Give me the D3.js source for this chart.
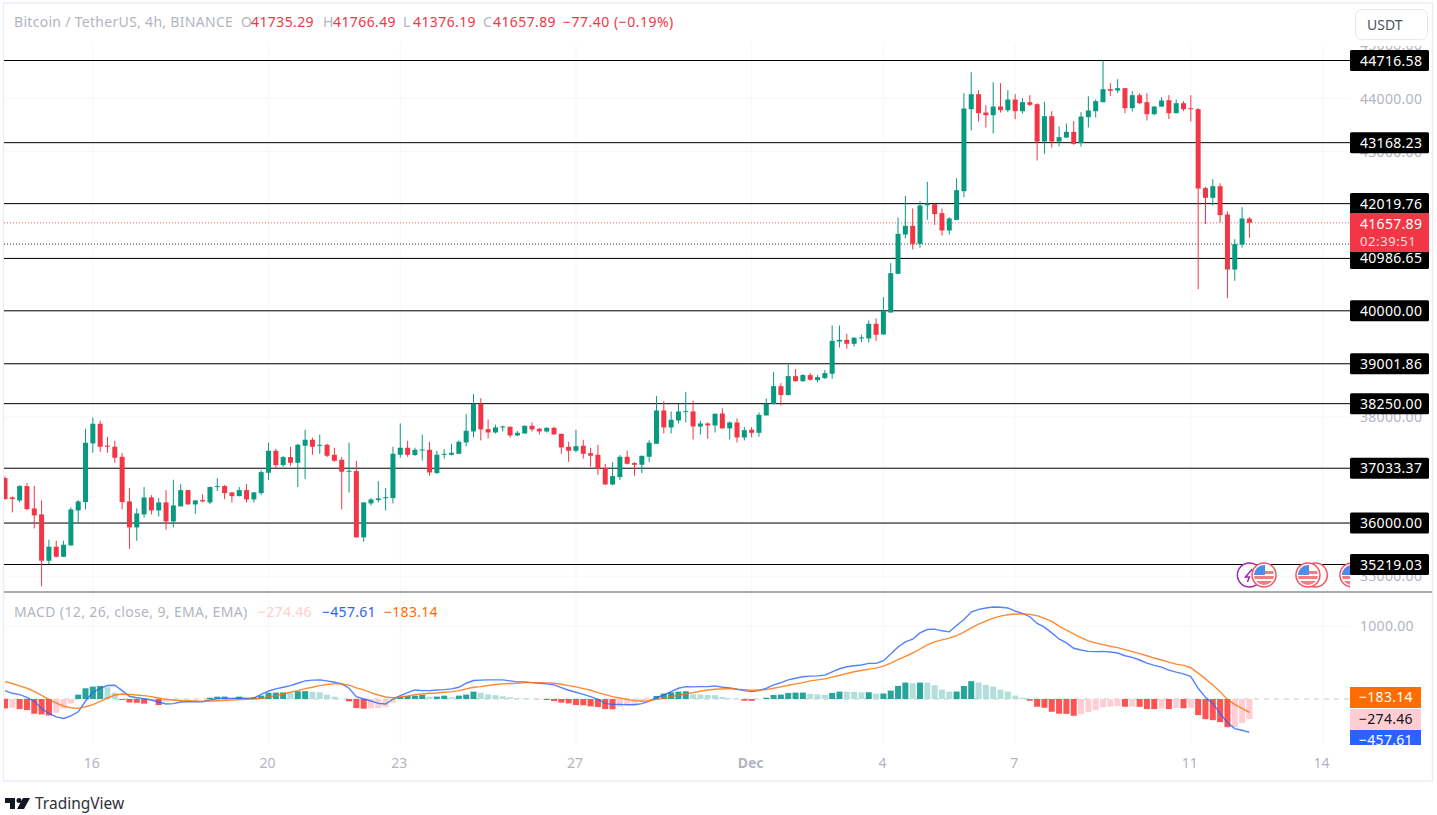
<!DOCTYPE html>
<html>
<head>
<meta charset="utf-8">
<title>BTC/USDT 4h</title>
<script src="https://cdn.jsdelivr.net/npm/d3@7/dist/d3.min.js"></script>
<style>
html, body { margin: 0; padding: 0; background: #fff; overflow: hidden; }
svg { display: block; font-family: "Noto Sans", sans-serif; }
.axis path, .axis line { display: none; }
</style>
</head>
<body>
<svg id="viz"></svg>
<script>
var width = 1437;
var height = 815;

// OHLC per 4h candle
var opens = [
36847,36483,36427,36697,36276,36163,35290,35554,35365,35579,
36238,36395,37501,37871,37457,37438,37249,36408,35918,36163,
36483,36238,36389,36031,36314,36621,36351,36433,36389,36678,
36697,36577,36508,36621,36445,36565,36948,37362,37092,37243,
37136,37457,37570,37457,37475,37287,37193,36967,36979,35730,
36370,36433,36471,36471,37287,37419,37281,37368,37381,36941,
37287,37287,37305,37519,37726,38247,37770,37707,37808,37814,
37651,37688,37833,37776,37726,37795,37682,37437,37362,37456,
37318,37287,37035,36728,36866,37249,37130,37098,37249,37494,
38122,37802,37934,38090,38103,37820,37877,37839,38065,37783,
37896,37613,37758,37701,38028,38247,38580,38411,38769,38674,
38788,38693,38731,38813,39422,39453,39378,39479,39479,39755,
39554,39968,40697,41438,41601,41262,41990,42009,41840,41513,
41714,42254,43799,44082,43736,43686,43849,43780,43981,43761,
43931,43893,43190,43667,43190,43265,43372,43159,43649,43761,
43931,44176,44151,44195,43818,44063,43931,43705,43849,43969,
43724,43912,43818,43799,42311,42129,42348,41815,40778,41250,41735.29];

var closes = [
36452,36452,36697,36263,36144,35290,35554,35365,35591,36257,
36408,37513,37871,37438,37438,37230,36395,35918,36182,36483,
36238,36389,36031,36332,36621,36351,36427,36408,36678,36697,
36565,36508,36621,36445,36577,36960,37362,37092,37243,37136,
37475,37570,37438,37475,37268,37174,36967,36986,35730,36389,
36445,36464,36489,37306,37419,37287,37381,37387,36954,37287,
37305,37324,37532,37739,38247,37764,37707,37802,37820,37651,
37701,37833,37764,37726,37795,37670,37425,37362,37450,37305,
37268,37023,36728,36885,37249,37117,37098,37268,37513,38122,
37802,37946,38103,38109,37820,37877,37839,38059,37783,37896,
37613,37751,37701,38040,38247,38580,38411,38769,38674,38788,
38700,38750,38825,39434,39453,39378,39491,39497,39755,39548,
39993,40709,41450,41601,41262,41984,42022,41821,41513,41739,
42273,43812,44082,43724,43686,43849,43780,43981,43761,43931,
43881,43190,43667,43190,43272,43372,43146,43661,43774,43950,
44176,44145,44195,43818,44063,43912,43705,43849,43962,43724,
43912,43799,43799,42304,42129,42348,41802,40778,41256,41739,41657.89];

var highs = [
36879,36502,36715,36753,36703,36427,35686,35667,35667,36295,
36433,37777,37990,37928,37626,37551,37318,36659,36276,36678,
36527,36471,36621,36816,36734,36628,36433,36546,36690,36847,
36715,36584,36678,36734,36584,36998,37513,37400,37262,37438,
37494,37758,37607,37664,37494,37419,37243,37513,37174,36395,
36471,36791,36659,37438,37877,37551,37419,37663,37531,37362,
37393,37488,37557,38053,38430,38354,37952,37852,37839,37820,
37732,37833,37896,37795,37802,37814,37682,37532,37758,37569,
37418,37475,37117,37148,37280,37362,37148,37268,37563,38392,
38298,38103,38247,38473,38304,37927,37896,38065,38160,37915,
37971,37808,37808,38084,38348,38850,38637,39014,38901,38806,
38825,38788,38882,39723,39723,39566,39504,39548,39818,39855,
40257,40898,41758,42166,41928,42066,42430,42016,41928,41764,
42499,44101,44496,44157,43875,44308,44289,44157,44082,44006,
44063,43912,43937,43761,43473,43529,43573,43743,44044,43981,
44716,44289,44364,44195,44138,44101,44101,43862,44025,44063,
43981,43950,44063,43818,42336,42480,42405,41871,41350,41953,41766.49];

var lows = [
36439,36201,36389,36238,35899,34806,35227,35353,35359,35579,
35999,36257,37325,37344,37325,37136,36257,35516,35667,36106,
36163,36125,35874,35918,36314,36351,36175,36389,36358,36602,
36452,36389,36502,36389,36389,36527,36810,37036,37061,37080,
36678,36829,37287,37306,37243,37155,36257,36577,35730,35648,
36332,36389,36238,36370,37230,37249,37268,37180,36891,36929,
37217,37274,37305,37444,37613,37557,37594,37688,37726,37613,
37638,37688,37726,37670,37707,37663,37305,37155,37330,37217,
37060,36910,36715,36715,36809,37104,36891,36941,37155,37494,
37688,37688,37877,37896,37575,37670,37588,37707,37783,37575,
37519,37557,37613,37626,38028,38235,38216,38411,38662,38662,
38687,38656,38718,38718,39309,39284,39328,39409,39403,39434,
39554,39968,40691,41363,41155,41187,41714,41620,41419,41438,
41714,42141,43397,43567,43454,43341,43736,43743,43611,43717,
43856,42832,42958,43077,43096,43259,43127,43096,43454,43642,
43931,44050,44101,43724,43755,43893,43586,43686,43837,43611,
43724,43761,43567,40408,41633,41984,41664,40238,40565,41193,41376.19];

// MACD pane
var macdHist = [
-129,-120,-138,-152,-202,-212,-225,-189,-129,-64,
60,147,170,179,161,87,-14,-48,-52,-64,
-23,-83,-37,-14,-9,-5,-4,-3,18,32,
33,14,32,18,23,46,87,88,90,83,
106,108,97,92,60,32,4,-32,-124,-133,
-129,-125,-110,-50,28,41,46,55,32,33,
46,23,46,60,101,87,64,51,37,23,
9,7,2,-2,-14,-28,-50,-60,-83,-86,
-101,-110,-138,-140,-106,-83,-78,-37,-9,41,
74,92,101,106,64,62,55,53,28,9,
5,-23,-25,-3,18,55,60,83,87,88,
69,64,55,83,101,100,97,92,93,74,
75,115,179,225,216,225,224,189,129,101,
102,179,244,225,193,170,129,101,46,18,
-23,-106,-120,-175,-202,-203,-230,-207,-179,-152,
-115,-106,-97,-106,-105,-107,-138,-139,-129,-138,
-124,-126,-120,-221,-276,-290,-317,-386,-385,-331,-274.46];

var macdLine = [
115,78,60,23,-32,-129,-198,-244,-267,-230,
-175,-28,92,147,184,189,115,37,18,5,
-14,-41,-69,-64,-41,-37,-37,-37,-14,5,
9,9,14,9,14,64,110,138,161,184,
216,248,258,262,248,230,207,147,32,0,
-28,-60,-69,0,46,87,124,115,115,124,
129,138,161,216,253,258,262,262,262,248,
235,235,225,216,207,193,156,120,92,64,
32,-5,-60,-74,-74,-78,-78,-64,-28,18,
55,101,147,170,166,170,170,179,161,152,
133,115,101,115,147,193,225,262,285,304,
313,317,327,373,414,442,455,465,488,488,
524,616,713,782,819,906,952,957,934,920,
1007,1090,1191,1228,1247,1260,1256,1247,1205,1173,
1127,1035,984,906,823,768,695,672,653,649,
653,644,630,593,570,534,492,460,437,396,
368,345,308,147,23,-60,-198,-322,-405,-428,-457.61];

var signalLine = [
239,212,179,147,106,51,-5,-55,-97,-120,
-129,-106,-78,-32,14,55,69,64,55,46,
32,14,-5,-14,-23,-23,-28,-32,-28,-23,
-18,-14,-9,-5,0,9,28,46,69,92,
115,143,161,184,198,207,207,189,152,124,
87,55,28,18,28,41,60,69,78,83,
92,101,115,138,161,170,184,198,207,212,
216,225,225,225,221,216,202,184,166,143,
120,87,60,32,14,-5,-23,-32,-23,-5,
9,32,51,69,87,106,124,133,138,143,
133,129,120,124,129,147,166,189,207,225,
248,262,276,299,322,350,373,391,409,423,
451,492,538,584,630,685,741,782,810,833,
869,915,975,1026,1067,1109,1136,1155,1164,1168,
1159,1141,1104,1063,998,943,892,842,796,768,
745,722,704,676,649,621,593,561,534,506,
478,460,428,354,276,193,101,-5,-74,-129,-183.14];

// horizontal levels drawn on the chart
var levels = [44716.58, 43168.23, 42019.76, 40986.65, 40000, 39001.86, 38250, 37033.37, 36000, 35219.03];
var lastPrice = 41657.89;
var prevLine = 41257;
var countdown = "02:39:51";

var priceTicks = [45000, 44000, 43000, 42000, 41000, 40000, 39000, 38000, 37000, 36000, 35000];
var macdTicks = [1000];

// candle index of each date label
var timeTicks = [12, 36, 54, 78, 102, 120, 138, 162, 180];
var timeLabels = ["16", "20", "23", "27", "Dec", "4", "7", "11", "14"];

var eventIdx = [170, 172, 179, 178, 184];
var eventKinds = ["bolt", "flag", "ring", "flag", "flag"];

var upColor = "#089981";
var downColor = "#F23645";

var svg = d3.select("#viz").attr("width", width).attr("height", height);

var x = d3.scaleLinear().domain([0, 170]).range([5, 1249.4]);
var y = d3.scaleLinear().domain([35219.03, 44716.58]).range([564.5, 60.5]);
var yMacd = d3.scaleLinear().domain([0, 1000]).range([699, 626]);

var left = 4, right = 1350, top1 = 44, bot1 = 591, top2 = 593, bot2 = 745;

var defs = svg.append("defs");
defs.append("clipPath").attr("id", "clipMain").append("rect")
    .attr("x", left).attr("y", top1).attr("width", right - left).attr("height", bot1 - top1);
defs.append("clipPath").attr("id", "clipMacd").append("rect")
    .attr("x", left).attr("y", top2).attr("width", right - left).attr("height", bot2 - top2);
defs.append("clipPath").attr("id", "clipLabel").append("rect")
    .attr("x", 1350).attr("y", top2).attr("width", 80).attr("height", bot2 - top2);

// frame
svg.append("rect").attr("x", 3.5).attr("y", 3).attr("width", 1429).attr("height", 778)
    .attr("fill", "#fff").attr("stroke", "#eceef5").attr("stroke-width", 1.5);

// faint grid
var grid = svg.append("g").attr("stroke", "#f6f7fb").attr("stroke-width", 1);
grid.selectAll(".v").data(timeTicks).enter().append("line")
    .attr("x1", function(d) { return x(d); }).attr("x2", function(d) { return x(d); })
    .attr("y1", top1).attr("y2", bot2);
grid.selectAll(".h").data(priceTicks.slice(1)).enter().append("line")
    .attr("x1", left).attr("x2", right)
    .attr("y1", function(d) { return y(d); }).attr("y2", function(d) { return y(d); });
grid.append("line").attr("x1", left).attr("x2", right).attr("y1", yMacd(1000)).attr("y2", yMacd(1000));

// price axis text, sits under the black labels
var priceAxis = d3.axisRight(y).tickValues(priceTicks).tickSize(0).tickPadding(0)
    .tickFormat(function(d) { return d3.format(".2f")(d); });
var gAxis = svg.append("g").attr("class", "axis").attr("transform", "translate(1360,0)").call(priceAxis);
gAxis.selectAll("text").attr("fill", "#b2b5be").attr("font-size", 14).attr("font-family", "Noto Sans")
    .attr("letter-spacing", 0.3);

var macdAxis = d3.axisRight(yMacd).tickValues(macdTicks).tickSize(0).tickPadding(0)
    .tickFormat(function(d) { return d3.format(".2f")(d); });
var gAxis2 = svg.append("g").attr("class", "axis").attr("transform", "translate(1360,0)").call(macdAxis);
gAxis2.selectAll("text").attr("fill", "#b2b5be").attr("font-size", 14).attr("font-family", "Noto Sans")
    .attr("letter-spacing", 0.3);

// hide the top of the 45000 label, as the toolbar does
svg.append("rect").attr("x", 1350).attr("y", 5).attr("width", 81).attr("height", 41).attr("fill", "#fff");
svg.append("rect").attr("x", 1355.5).attr("y", 9.5).attr("width", 72).attr("height", 30).attr("rx", 6)
    .attr("fill", "#fff").attr("stroke", "#e6e8f0").attr("stroke-width", 1);
svg.append("text").attr("x", 1367).attr("y", 30).attr("font-size", 14).attr("fill", "#50535e").text("USDT");

// main pane
var main = svg.append("g").attr("clip-path", "url(#clipMain)");

main.selectAll(".level").data(levels).enter().append("line")
    .attr("x1", left).attr("x2", right)
    .attr("y1", function(d) { return y(d); }).attr("y2", function(d) { return y(d); })
    .attr("stroke", "#000").attr("stroke-width", 1);

main.append("line").attr("x1", left).attr("x2", right)
    .attr("y1", y(lastPrice)).attr("y2", y(lastPrice))
    .attr("stroke", downColor).attr("stroke-dasharray", "1 2").attr("stroke-opacity", 0.8);
main.append("line").attr("x1", left).attr("x2", right)
    .attr("y1", y(prevLine)).attr("y2", y(prevLine))
    .attr("stroke", "#333").attr("stroke-dasharray", "1 2");

var candleColor = function(i) { return closes[i] < opens[i] ? downColor : upColor; };

main.selectAll(".wick").data(d3.range(opens.length)).enter().append("line")
    .attr("x1", function(i) { return x(i); }).attr("x2", function(i) { return x(i); })
    .attr("y1", function(i) { return y(highs[i]); }).attr("y2", function(i) { return y(lows[i]); })
    .attr("stroke", candleColor).attr("stroke-width", 1);

main.selectAll(".body").data(d3.range(opens.length)).enter().append("rect")
    .attr("x", function(i) { return x(i) - 2.5; })
    .attr("width", 5)
    .attr("y", function(i) { return y(Math.max(opens[i], closes[i])); })
    .attr("height", function(i) { return Math.max(1, Math.abs(y(opens[i]) - y(closes[i]))); })
    .attr("fill", candleColor);

// event icons
var icons = main.selectAll(".icon").data(eventIdx).enter().append("g")
    .attr("transform", function(d) { return "translate(" + x(d) + ",575)"; });
icons.each(function(d, i) {
    var g = d3.select(this);
    var kind = eventKinds[i];
    if (kind === "bolt") {
        g.append("circle").attr("r", 12).attr("fill", "#fff").attr("stroke", "#9c27b0").attr("stroke-width", 1.5);
        g.append("path").attr("d", "M3,-6 L-4,2 L0,2 L-2,7").attr("fill", "none").attr("stroke", "#9c27b0").attr("stroke-width", 1.5);
    } else {
        g.append("circle").attr("r", 12).attr("fill", "#fff").attr("stroke", "#f7525f").attr("stroke-width", 1.5);
        if (kind === "flag") {
            g.append("clipPath").attr("id", "fl" + i).append("circle").attr("r", 10);
            var f = g.append("g").attr("clip-path", "url(#fl" + i + ")");
            f.append("rect").attr("x", -10).attr("y", -4).attr("width", 20).attr("height", 3).attr("fill", "#f77c80");
            f.append("rect").attr("x", -10).attr("y", 1).attr("width", 20).attr("height", 3).attr("fill", "#f77c80");
            f.append("rect").attr("x", -10).attr("y", 6).attr("width", 20).attr("height", 4).attr("fill", "#f77c80");
            f.append("rect").attr("x", -10).attr("y", -10).attr("width", 11).attr("height", 10).attr("fill", "#4c8cea");
        }
    }
});

// right side labels
var labels = svg.append("g");
labels.selectAll("rect").data(levels).enter().append("rect")
    .attr("x", 1350).attr("width", 79).attr("height", 21).attr("rx", 1.5)
    .attr("y", function(d) { return y(d) - 10.5; })
    .attr("fill", "#000");
labels.selectAll("text").data(levels).enter().append("text")
    .attr("x", 1360).attr("y", function(d) { return y(d) + 5; })
    .attr("fill", "#fff").attr("font-size", 14).attr("letter-spacing", 0.3)
    .text(function(d) { return d3.format(".2f")(d); });

labels.append("rect").attr("x", 1350).attr("y", 213).attr("width", 79).attr("height", 39).attr("fill", downColor);
labels.append("text").attr("x", 1360).attr("y", 229).attr("fill", "#fff").attr("font-size", 14).attr("letter-spacing", 0.3)
    .text(d3.format(".2f")(lastPrice));
labels.append("text").attr("x", 1360).attr("y", 246).attr("fill", "#fff").attr("font-size", 13).attr("letter-spacing", 0.6)
    .attr("fill-opacity", 0.85).text(countdown);

// pane separator
svg.append("line").attr("x1", left).attr("x2", 1432).attr("y1", 592).attr("y2", 592)
    .attr("stroke", "#8f929a").attr("stroke-width", 1.6);

// MACD pane
var lower = svg.append("g").attr("clip-path", "url(#clipMacd)");

lower.append("line").attr("x1", left).attr("x2", right)
    .attr("y1", yMacd(0)).attr("y2", yMacd(0))
    .attr("stroke", "#c4c6cc").attr("stroke-dasharray", "5 5");

var histColor = function(i) {
    var v = macdHist[i];
    var prev = i > 0 ? macdHist[i - 1] : v;
    if (v >= 0) return v >= prev ? "#26A69A" : "#B2DFDB";
    return v <= prev ? "#FF5252" : "#FFCDD2";
};

lower.selectAll(".bar").data(d3.range(macdHist.length)).enter().append("rect")
    .attr("x", function(i) { return x(i) - 3; })
    .attr("width", 6)
    .attr("y", function(i) { return Math.min(yMacd(0), yMacd(macdHist[i])); })
    .attr("height", function(i) { return Math.abs(yMacd(0) - yMacd(macdHist[i])); })
    .attr("fill", histColor);

var lineGen = function(values) {
    return d3.line()
        .x(function(d, i) { return x(i); })
        .y(function(d) { return yMacd(d); })(values);
};

lower.append("path").attr("d", lineGen(macdLine))
    .attr("fill", "none").attr("stroke", "#2962FF").attr("stroke-width", 1.4).attr("stroke-opacity", 0.8);
lower.append("path").attr("d", lineGen(signalLine))
    .attr("fill", "none").attr("stroke", "#FF6D00").attr("stroke-width", 1.4).attr("stroke-opacity", 0.8);

// MACD value labels
var macdLabels = [
    { v: signalLine[170], top: 687, fill: "#FF6D00", text: "#fff" },
    { v: macdHist[170], top: 709, fill: "#FFCDD2", text: "#131722" },
    { v: macdLine[170], top: 730, fill: "#2962FF", text: "#fff" }
];
var macdTag = svg.append("g").attr("clip-path", "url(#clipLabel)");
macdTag.selectAll("rect").data(macdLabels).enter().append("rect")
    .attr("x", 1350).attr("width", 71).attr("height", 21)
    .attr("y", function(d) { return d.top; })
    .attr("fill", function(d) { return d.fill; });
macdTag.selectAll("text").data(macdLabels).enter().append("text")
    .attr("x", 1359).attr("y", function(d) { return d.top + 15; })
    .attr("font-size", 14).attr("letter-spacing", 0.3)
    .attr("fill", function(d) { return d.text; })
    .text(function(d) { return "\u2212" + d3.format(".2f")(Math.abs(d.v)); });

// time axis
var timeAxis = d3.axisBottom(x).tickValues(timeTicks).tickSize(0).tickPadding(0)
    .tickFormat(function(d, i) { return timeLabels[i]; });
var gTime = svg.append("g").attr("class", "axis").attr("transform", "translate(-1.5,758)").call(timeAxis);
gTime.selectAll("text")
    .attr("fill", "#b2b5be").attr("font-size", 14).attr("font-family", "Noto Sans")
    .attr("font-weight", function(d, i) { return timeLabels[i] === "Dec" ? 700 : 400; });

// header legend
var legendGray = "#b2b5be";
var addText = function(px, py, str, color, spacing) {
    svg.append("text").attr("x", px).attr("y", py).attr("font-size", 14)
        .attr("letter-spacing", spacing).attr("fill", color).text(str);
};
addText(14, 27, "Bitcoin / TetherUS, 4h, BINANCE", legendGray, 0.3);
var ohlcLetters = ["O", "H", "L", "C"];
var ohlcValues = [opens[170], highs[170], lows[170], closes[170]];
var ohlcX = [241, 323, 403, 483];
ohlcLetters.forEach(function(l, i) {
    addText(ohlcX[i], 27, l, legendGray, 0);
    addText(ohlcX[i] + 10, 27, d3.format(".2f")(ohlcValues[i]), downColor, 0.4);
});
addText(563, 27, "\u221277.40 (\u22120.19%)", downColor, 0.5);

addText(14, 617, "MACD (12, 26, close, 9, EMA, EMA)", legendGray, 0.36);
addText(258, 617, "\u2212274.46", "#FFCDD2", 0.3);
addText(322, 617, "\u2212457.61", "#2962FF", 0.3);
addText(384, 617, "\u2212183.14", "#FF6D00", 0.3);

// logo
var logo = svg.append("g").attr("transform", "translate(5,797)").attr("fill", "#131722");
logo.append("path").attr("d", "M0,1 H10 V12 H5 V6 H0 Z");
logo.append("circle").attr("cx", 14).attr("cy", 3.5).attr("r", 2.5);
logo.append("path").attr("d", "M18,1 H25 L19,12 H12 Z");
svg.append("text").attr("x", 35).attr("y", 809).attr("font-size", 15.5)
    .attr("fill", "#2e3138").text("TradingView");
</script>
</body>
</html>
